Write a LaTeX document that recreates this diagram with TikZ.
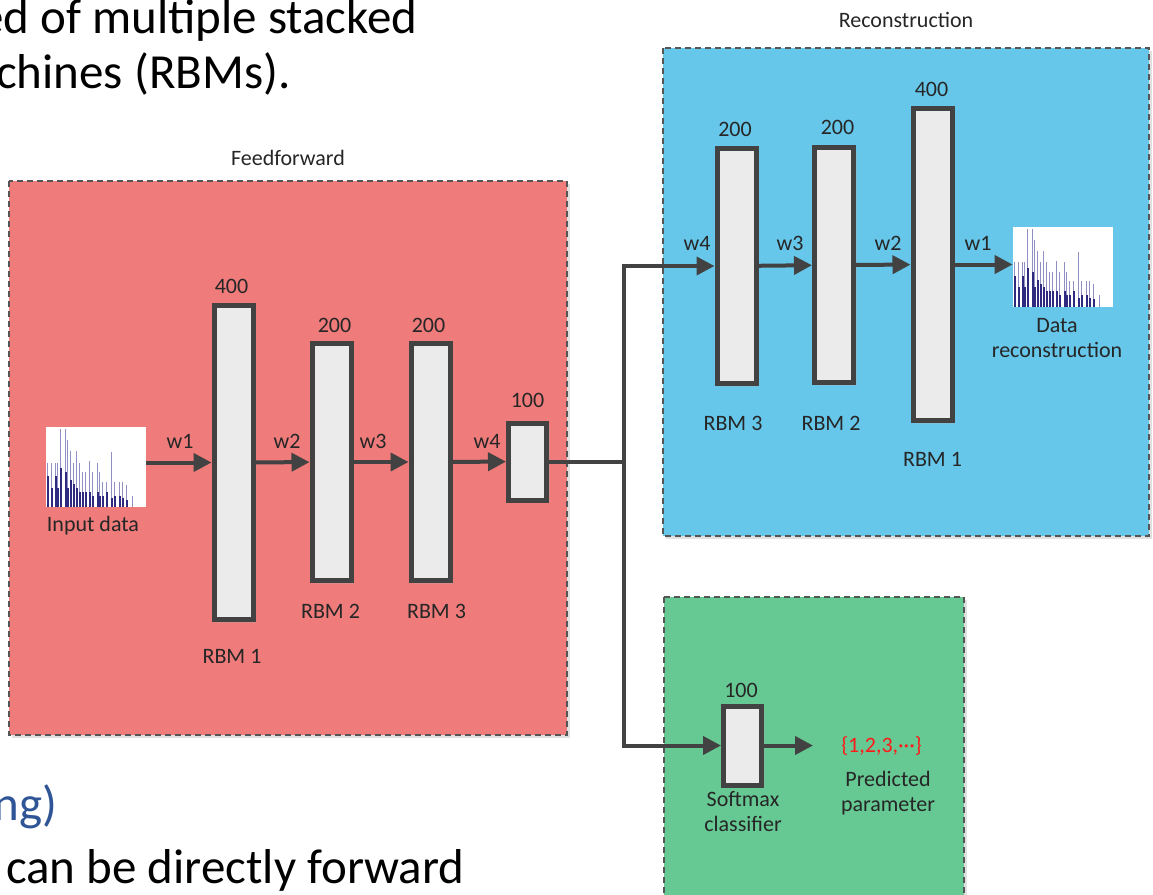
\documentclass[tikz,border=0pt]{standalone}
\usepackage{fontspec}
\setmainfont{Carlito}
\usetikzlibrary{arrows.meta,shadows}
\definecolor{ffred}{HTML}{EF7B7B}
\definecolor{rcblue}{HTML}{66C7EA}
\definecolor{smgreen}{HTML}{66C993}
\definecolor{edge}{HTML}{424242}
\definecolor{slideblue}{HTML}{2F5597}
\definecolor{specdark}{HTML}{2E2A80}
\definecolor{speclight}{HTML}{9090C4}
% little spectrum plot inside an image node
\newcommand{\spectrum}[1]{%
	\begin{scope}[shift={(#1.south west)}]
		\foreach \dx/\hl/\hd in {2/.57/.4,6/.57/.25,10/.57/.4,12/.57/.25,15/1/.5,20/1/.45,22/.86/.25,25/.72/.35,28/.57/.3,31/.72/.25,34/.57/.2,37/.45/.2,40/.45/.2,44/.59/.2,47/.45/.15,52/.57/.2,54/.45/.15,57/.33/.15,61/.33/.2,66/.71/.12,69/.33/.15,74/.33/.15,77/.33/.12,81/.29/.1,87/.15/0}{
			\draw[speclight,line width=0.7pt] (\dx,0) -- (\dx,-\hl*78);
			\draw[specdark,line width=0.9pt] (\dx,0) -- (\dx,-\hd*78);
		}
	\end{scope}}
\begin{document}
\begin{tikzpicture}[x=0.5pt,y=-0.5pt,line join=miter,
	txt/.style={font=\fontsize{11}{12.5}\selectfont,text=black!85,inner sep=0pt,align=center},
	slide/.style={anchor=base east,inner sep=0pt,font=\fontsize{24.5}{29}\selectfont},
	region/.style={draw=edge!90,line width=0.75pt,dash pattern=on 3pt off 2pt,drop shadow={shadow xshift=1.5pt,shadow yshift=-1.5pt,fill=black!12,opacity=1}},
	rbm/.style={draw=edge,line width=2.5pt,fill=black!8,minimum width=19.5pt,inner sep=0pt,drop shadow={shadow xshift=1.5pt,shadow yshift=-1.5pt,fill=black!30,opacity=.3}},
	tall/.style={rbm,minimum height=157pt},
	mid/.style={rbm,minimum height=118.5pt},
	short/.style={rbm,minimum height=38.5pt,minimum width=19pt},
	img/.style={fill=white,minimum width=50pt,minimum height=40pt,inner sep=0pt},
	ln/.style={edge,line width=2pt},
	arr/.style={ln,-{Triangle[length=9pt,width=9pt]}}]
	\useasboundingbox (0,0) rectangle (1153,895);
	% slide text around the figure
	\node[slide] (s1) at (418,33) {ed of multiple stacked};
	\node[slide] (s2) at (291,88) {achines (RBMs).};
	\node[slide,text=slideblue] (s3) at (58,820) {ng)};
	\node[slide] (s4) at (465,883) {s can be directly forward};
	% regions
	\draw[region,fill=ffred] (9,181) rectangle (567,735);
	\draw[region,fill=rcblue] (663,48) rectangle (1149,536);
	\draw[region,fill=smgreen] (664,597) rectangle (964,905);
	\node[txt] (tff) at (288,158) {Feedforward};
	\node[txt] (trc) at (906,20) {Reconstruction};
	% feedforward
	\node[img] (in) at (96,467) {};
	\spectrum{in}
	\node[txt] (tin) at (93,526) {Input data};
	\node[tall] (ff1) at (233.5,462.5) {};
	\node[mid] (ff2) at (331.5,462) {};
	\node[mid] (ff3) at (430.5,462) {};
	\node[short] (ff4) at (527.5,461.5) {};
	\node[txt] (n1) at (231.5,286) {400};
	\node[txt] (n2) at (334.5,325) {200};
	\node[txt] (n3) at (428.5,325) {200};
	\node[txt] (n4) at (527.5,400) {100};
	\node[txt] (r1) at (232,656) {RBM 1};
	\node[txt] (r2) at (330.5,611) {RBM 2};
	\node[txt] (r3) at (436.5,611) {RBM 3};
	\node[txt] (w1) at (180,441) {w1};
	\node[txt] (w2) at (287,441) {w2};
	\node[txt] (w3) at (373,441) {w3};
	\node[txt] (w4) at (487,441) {w4};
	\draw[arr] (in.east |- ff1) -- (ff1);
	\draw[arr] (ff1) -- (ff2);
	\draw[arr] (ff2) -- (ff3);
	\draw[arr] (ff3) -- (ff4);
	\coordinate (j) at (624,461.5);
	\draw[ln] (ff4) -- (j);
	% reconstruction
	\node[mid,minimum height=117.5pt] (rc3) at (736.5,266) {};
	\node[mid,minimum height=117.5pt] (rc2) at (834,265) {};
	\node[tall,minimum height=156pt] (rc1) at (932.5,264.5) {};
	\node[img] (rec) at (1063,266.5) {};
	\spectrum{rec}
	\node[txt] (m3) at (735,129) {200};
	\node[txt] (m2) at (837.5,127) {200};
	\node[txt] (m1) at (931.5,89) {400};
	\node[txt] (q3) at (733,423) {RBM 3};
	\node[txt] (q2) at (831,423) {RBM 2};
	\node[txt] (q1) at (932.5,459) {RBM 1};
	\node[txt] (v4) at (697,243) {w4};
	\node[txt] (v3) at (790,243) {w3};
	\node[txt] (v2) at (888,243) {w2};
	\node[txt] (v1) at (978,243) {w1};
	\node[txt] (trec) at (1057,338) {Data\\reconstruction};
	\draw[arr] (j) |- (rc3);
	\draw[arr] (rc3) -- (rc2);
	\draw[arr] (rc2) -- (rc1);
	\draw[arr] (rc1) -- (rc1 -| rec.west);
	% classifier
	\node[short,minimum height=39.5pt] (sm) at (742.5,745.5) {};
	\node[txt] (n5) at (741,690) {100};
	\node[txt] (tsm) at (743,812) {Softmax\\classifier};
	\coordinate (out) at (813,745.5);
	\draw[arr] (j) |- (sm);
	\draw[arr] (sm) -- (out);
	\node[txt,text=red!90] (cls) at (881.5,746) {\{1,2,3,···\}};
	\node[txt] (tpp) at (888,793) {Predicted\\parameter};
\end{tikzpicture}
\end{document}
